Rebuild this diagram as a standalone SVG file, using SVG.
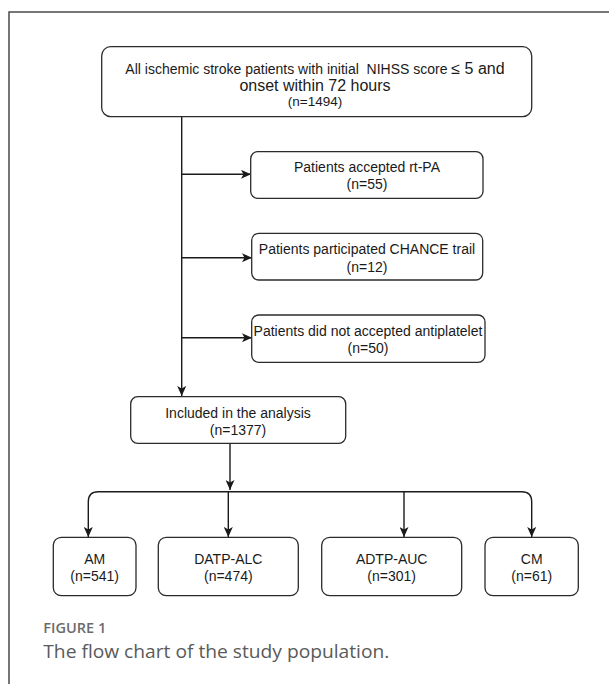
<svg xmlns="http://www.w3.org/2000/svg" width="609" height="684" viewBox="0 0 609 684">
<style>
.box{fill:#fff;stroke:#2b2b2b;stroke-width:1.3}
.t{font-family:"Liberation Sans",Arial,sans-serif;font-size:14px;fill:#1a1a1a;text-anchor:middle}
.c{fill:none;stroke:#1a1a1a;stroke-width:1.4}
.frame{fill:none;stroke:#4a4a4a;stroke-width:1.5}
</style>
<defs>
<marker id="arr" viewBox="0 0 10 9" refX="10" refY="4.5" markerWidth="10" markerHeight="9" orient="auto" markerUnits="userSpaceOnUse">
<path d="M0,0 L10,4.5 L0,9 L2.5,4.5 z" fill="#1a1a1a"/>
</marker>
</defs>
<rect width="609" height="684" fill="#fff"/>
<path class="frame" d="M609,12 H9 V684"/>

<g id="connectors">
<path class="c" d="M181.7,116.7 V396" marker-end="url(#arr)"/>
<path class="c" d="M181.7,174.3 H251" marker-end="url(#arr)"/>
<path class="c" d="M181.7,257.7 H252" marker-end="url(#arr)"/>
<path class="c" d="M181.7,337.7 H252" marker-end="url(#arr)"/>
<path class="c" d="M230,443.3 V490" marker-end="url(#arr)"/>
<path class="c" d="M230,491.7 H98.3 Q88.3,491.7 88.3,501.7 V537" marker-end="url(#arr)"/>
<path class="c" d="M230,491.7 H521.7 Q531.7,491.7 531.7,501.7 V537" marker-end="url(#arr)"/>
<path class="c" d="M228.3,491.7 V537" marker-end="url(#arr)"/>
<path class="c" d="M404,491.7 V537" marker-end="url(#arr)"/>
</g>

<g id="n-all">
<rect class="box" x="101.7" y="46.7" width="430" height="70" rx="9"/>
<text class="t" x="315" y="73.5" style="white-space:pre">All ischemic stroke patients with initial  NIHSS score <tspan font-size="16">≤ 5 and</tspan></text>
<text class="t" x="315" y="90.7" style="font-size:16px">onset within 72 hours</text>
<text class="t" x="315" y="106" style="font-size:13.5px">(n=1494)</text>
</g>

<g id="n-rtpa">
<rect class="box" x="250.7" y="151.7" width="232.3" height="46.6" rx="7"/>
<text class="t" x="367" y="172.3">Patients accepted rt-PA</text>
<text class="t" x="367" y="189.3">(n=55)</text>
</g>

<g id="n-chance">
<rect class="box" x="251.7" y="233.3" width="231" height="46.7" rx="7"/>
<text class="t" x="367" y="254.3">Patients participated CHANCE trail</text>
<text class="t" x="367" y="271.7">(n=12)</text>
</g>

<g id="n-anti">
<rect class="box" x="251.7" y="315" width="233.3" height="47.3" rx="7"/>
<text class="t" x="368" y="336">Patients did not accepted antiplatelet</text>
<text class="t" x="368" y="352.7">(n=50)</text>
</g>

<g id="n-included">
<rect class="box" x="130.7" y="396.7" width="215" height="46.6" rx="7"/>
<text class="t" x="238" y="417.7">Included in the analysis</text>
<text class="t" x="238" y="435">(n=1377)</text>
</g>

<g id="n-am">
<rect class="box" x="53.3" y="537.3" width="82.7" height="58.4" rx="8"/>
<text class="t" x="94.7" y="564">AM</text>
<text class="t" x="94.7" y="581">(n=541)</text>
</g>

<g id="n-datp">
<rect class="box" x="158.3" y="537.3" width="140" height="58.4" rx="8"/>
<text class="t" x="228.3" y="564">DATP-ALC</text>
<text class="t" x="228.3" y="581">(n=474)</text>
</g>

<g id="n-adtp">
<rect class="box" x="321.7" y="537.3" width="140" height="58.4" rx="8"/>
<text class="t" x="391.7" y="564">ADTP-AUC</text>
<text class="t" x="391.7" y="581">(n=301)</text>
</g>

<g id="n-cm">
<rect class="box" x="485" y="537.3" width="93.3" height="58.4" rx="8"/>
<text class="t" x="531.7" y="564">CM</text>
<text class="t" x="531.7" y="581">(n=61)</text>
</g>

<text x="43.3" y="633.3" font-family="'Open Sans',sans-serif" font-size="14.5" font-weight="600" fill="#6b6b6b" textLength="63" lengthAdjust="spacingAndGlyphs">FIGURE 1</text>
<text x="43.3" y="658" font-family="'Open Sans',sans-serif" font-size="18.5" fill="#5a5a5a" textLength="346" lengthAdjust="spacingAndGlyphs">The flow chart of the study population.</text>
</svg>
